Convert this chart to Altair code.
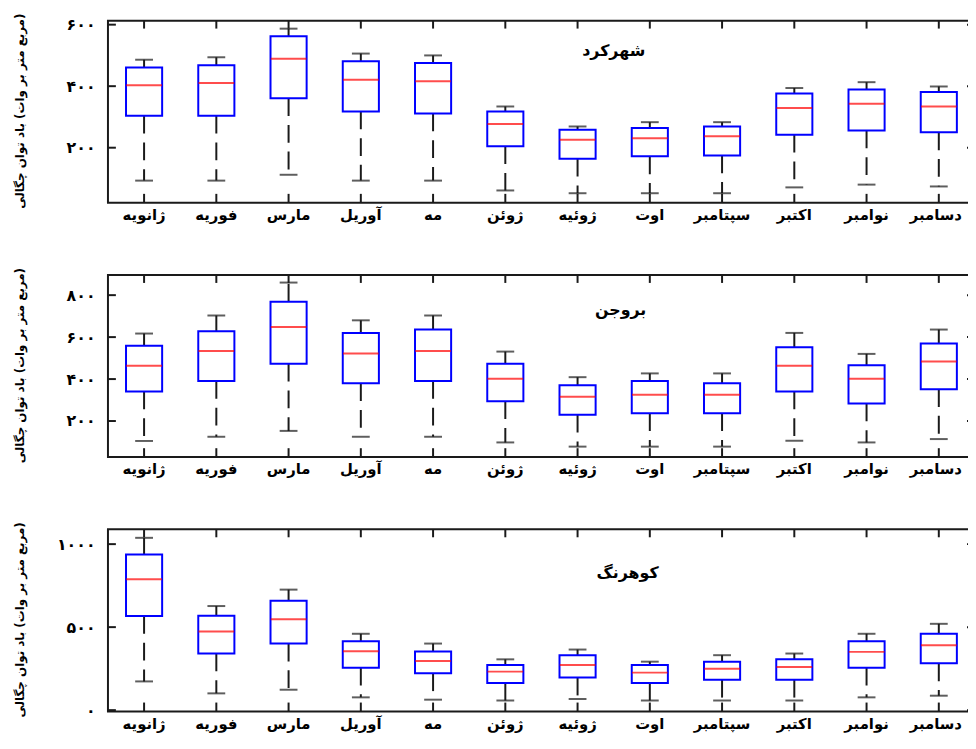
import altair as alt
import pandas as pd

months = ["ژانویه", "فوریه", "مارس", "آوریل", "مه", "ژوئن",
          "ژوئیه", "اوت", "سپتامبر", "اکتبر", "نوامبر", "دسامبر"]

# Shahrekord
shk_lo = [93, 93, 112, 93, 93, 61, 52, 52, 52, 71, 80, 74]
shk_q1 = [304, 304, 361, 318, 311, 205, 164, 172, 175, 242, 256, 250]
shk_med = [403, 410, 489, 421, 416, 277, 226, 231, 237, 329, 343, 334]
shk_q3 = [461, 468, 562, 481, 475, 318, 258, 264, 269, 376, 389, 381]
shk_hi = [486, 494, 587, 506, 500, 334, 269, 283, 283, 394, 413, 399]

# Borujen
brj_lo = [105, 125, 153, 125, 125, 98, 78, 78, 78, 106, 98, 114]
brj_q1 = [341, 391, 473, 380, 391, 294, 230, 237, 237, 341, 284, 352]
brj_med = [464, 534, 648, 522, 534, 402, 316, 325, 325, 464, 402, 484]
brj_q3 = [559, 628, 769, 620, 636, 473, 370, 391, 380, 552, 466, 570]
brj_hi = [617, 703, 860, 680, 703, 531, 409, 427, 427, 620, 520, 636]

# Koohrang
kh_lo = [173, 101, 123, 77, 63, 58, 67, 58, 58, 58, 77, 87]
kh_q1 = [567, 341, 401, 256, 222, 163, 196, 163, 183, 183, 256, 282]
kh_med = [788, 474, 548, 355, 296, 232, 272, 226, 250, 260, 351, 391]
kh_q3 = [937, 569, 659, 415, 353, 272, 331, 272, 292, 306, 415, 460]
kh_hi = [1038, 627, 726, 460, 401, 306, 365, 292, 331, 341, 460, 520]

stations = ["شهرکرد", "بروجن", "کوهرنگ"]
ticks_shk = [200, 400, 600]
ticks_brj = [200, 400, 600, 800]
ticks_kh = [0, 500, 1000]

y_title = "چگالی\u200e توان\u200e باد\u200e (وات\u200e بر\u200e متر\u200e مربع)"

W = 876
H = 184
FONT = "DejaVu Sans"
INK = "#1a1a1a"

PERSIAN = str.maketrans("0123456789", "۰۱۲۳۴۵۶۷۸۹")


def panel(name, lo, q1, med, q3, hi, domain, ticks, tx, ty):
    df = pd.DataFrame({"month": months, "lo": lo, "q1": q1, "med": med,
                       "q3": q3, "hi": hi})
    tdf = pd.DataFrame({"v": ticks})
    ndf = pd.DataFrame({"name": [name]})

    expr = ""
    for t in ticks:
        expr += f"datum.value == {t} ? '{str(t).translate(PERSIAN)}' : "
    expr += "''"

    last = months[-1]
    xenc = alt.X("month:N", sort=months,
                 scale=alt.Scale(paddingInner=0, paddingOuter=0),
                 axis=alt.Axis(title=None, labelAngle=0, ticks=False, domain=False,
                               grid=False, labelPadding=5, labelFontSize=15,
                               labelFontWeight="bold", labelFont=FONT,
                               labelColor="black",
                               labelOffset=alt.ExprRef(
                                   f"datum.value == '{last}' ? -3 : 0")))
    yscale = alt.Scale(domain=domain, nice=False, zero=False)
    yaxis = alt.Axis(title=y_title, values=ticks, labelExpr=expr, ticks=False,
                     domain=False, grid=False, labelPadding=13, labelFontSize=16,
                     labelFontWeight="bold", labelFont=FONT, labelColor="black",
                     titleFont=FONT, titleFontSize=12, titleFontWeight="bold",
                     titleColor="black", titleX=-82, titleY=H / 2 - 1)

    def Y(field):
        return alt.Y(f"{field}:Q", scale=yscale, axis=yaxis)

    base = alt.Chart(df)
    w_lo = base.mark_rule(color=INK, strokeWidth=2, strokeDash=[18, 9]).encode(
        x=xenc, y=Y("q1"), y2="lo")
    w_hi = base.mark_rule(color=INK, strokeWidth=2, strokeDash=[18, 9]).encode(
        x=xenc, y=Y("q3"), y2="hi")
    c_lo = base.mark_tick(color=INK, size=18, thickness=2).encode(x=xenc, y=Y("lo"))
    c_hi = base.mark_tick(color=INK, size=18, thickness=2).encode(x=xenc, y=Y("hi"))
    box = base.mark_bar(fill="white", stroke="#0000ff", strokeWidth=2,
                        width=alt.RelativeBandSize(0.5)).encode(
        x=xenc, y=Y("q1"), y2="q3")
    medl = base.mark_tick(color="#ff0000", size=36, thickness=2).encode(
        x=xenc, y=Y("med"))
    xt_top = base.mark_rule(color=INK, strokeWidth=2).encode(
        x=xenc, y=alt.value(0), y2=alt.value(8))
    xt_bot = base.mark_rule(color=INK, strokeWidth=2).encode(
        x=xenc, y=alt.value(H), y2=alt.value(H - 9))
    yt_l = alt.Chart(tdf).mark_rule(color=INK, strokeWidth=2).encode(
        y=Y("v"), x=alt.value(0), x2=alt.value(8))
    yt_r = alt.Chart(tdf).mark_rule(color=INK, strokeWidth=2).encode(
        y=Y("v"), x=alt.value(W), x2=alt.value(W - 8))
    label = alt.Chart(ndf).mark_text(font=FONT, fontSize=16, fontWeight="bold",
                                     color="black").encode(
        text="name:N", x=alt.value(tx), y=alt.value(ty))

    return alt.layer(w_lo, w_hi, c_lo, c_hi, box, medl, xt_top, xt_bot,
                     yt_l, yt_r, label).properties(width=W, height=H)


p1 = panel(stations[0], shk_lo, shk_q1, shk_med, shk_q3, shk_hi,
           [21, 613], ticks_shk, 511, 31)
p2 = panel(stations[1], brj_lo, brj_q1, brj_med, brj_q3, brj_hi,
           [28, 896], ticks_brj, 518, 35)
p3 = panel(stations[2], kh_lo, kh_q1, kh_med, kh_q3, kh_hi,
           [-8, 1089], ticks_kh, 525, 44)

chart = alt.vconcat(p1, p2, p3, spacing=73, bounds="flush").properties(
    padding={"left": 4, "top": 0, "right": -9, "bottom": 0},
    background="white",
).configure_view(stroke=INK, strokeWidth=2)

chart.save("out.html", embed_options={"renderer": "svg", "actions": False})
